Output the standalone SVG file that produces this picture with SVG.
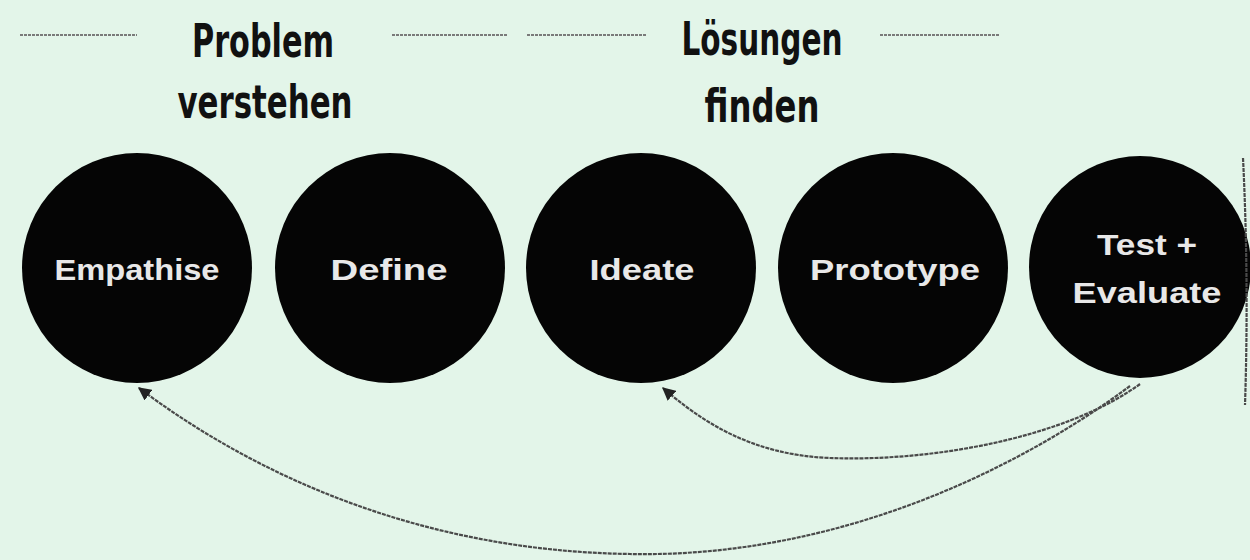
<svg xmlns="http://www.w3.org/2000/svg" width="1250" height="560" viewBox="0 0 1250 560">
<defs>
<style>
.node{fill:#050505;}
.lbl{font-family:"Liberation Sans",Arial,sans-serif;font-weight:bold;font-size:30px;fill:#e8e8e8;text-anchor:middle;}
.hand{font-family:"DejaVu Sans Condensed","DejaVu Sans",sans-serif;font-weight:bold;font-size:46px;fill:#111;text-anchor:middle;}
.rule{stroke:#7a7a7a;stroke-width:2.2;stroke-dasharray:3 1;fill:none;}
.conn{stroke:#4a4a4a;stroke-width:2.2;stroke-dasharray:4 1;fill:none;}
</style>
<marker id="arr" viewBox="0 0 10 10" refX="9" refY="5" markerWidth="6" markerHeight="6" orient="auto" markerUnits="strokeWidth">
<path d="M0,0 L10,5 L0,10 z" fill="#222"/>
</marker>
</defs>
<rect width="1250" height="560" fill="#e3f5e9"/>

<g id="headings">
<line class="rule" x1="20" y1="35" x2="137" y2="35"/>
<line class="rule" x1="392" y1="35" x2="508" y2="35"/>
<line class="rule" x1="527" y1="35" x2="647" y2="35"/>
<line class="rule" x1="880" y1="35" x2="1000" y2="35"/>
<text class="hand" x="263" y="57" textLength="142" lengthAdjust="spacingAndGlyphs">Problem</text>
<text class="hand" x="265" y="118" textLength="175" lengthAdjust="spacingAndGlyphs">verstehen</text>
<text class="hand" x="762" y="55" textLength="161" lengthAdjust="spacingAndGlyphs">Lösungen</text>
<text class="hand" x="762" y="122" textLength="115" lengthAdjust="spacingAndGlyphs">finden</text>
</g>

<g id="node-empathise">
<circle class="node" cx="137" cy="268" r="115"/>
<text class="lbl" x="137" y="280" textLength="165" lengthAdjust="spacingAndGlyphs">Empathise</text>
</g>
<g id="node-define">
<circle class="node" cx="390" cy="268" r="115"/>
<text class="lbl" x="389" y="280" textLength="117" lengthAdjust="spacingAndGlyphs">Define</text>
</g>
<g id="node-ideate">
<circle class="node" cx="641" cy="268" r="115"/>
<text class="lbl" x="642" y="280" textLength="105" lengthAdjust="spacingAndGlyphs">Ideate</text>
</g>
<g id="node-prototype">
<circle class="node" cx="893" cy="268" r="115"/>
<text class="lbl" x="895" y="280" textLength="170" lengthAdjust="spacingAndGlyphs">Prototype</text>
</g>
<g id="node-test">
<circle class="node" cx="1140" cy="267" r="111"/>
<text class="lbl" x="1147" y="255" textLength="100" lengthAdjust="spacingAndGlyphs">Test +</text>
<text class="lbl" x="1147" y="303" textLength="149" lengthAdjust="spacingAndGlyphs">Evaluate</text>
</g>

<g id="connectors">
<path class="conn" d="M1140,384 C1070,435 940,462 830,458 C750,455 700,420 663,388" marker-end="url(#arr)"/>
<path class="conn" d="M1130,386 C1010,475 830,558 630,554 C420,551 255,475 139,388" marker-end="url(#arr)"/>
<path class="conn" d="M1243,158 Q1249,280 1245,405"/>
</g>
</svg>
